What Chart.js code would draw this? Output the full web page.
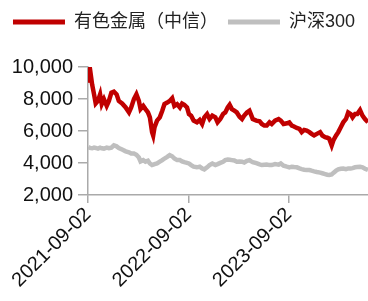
<!DOCTYPE html>
<html>
<head>
<meta charset="utf-8">
<script src="https://cdn.jsdelivr.net/npm/chart.js@4/dist/chart.umd.min.js"></script>
<style>
  html, body { margin: 0; padding: 0; background: #fff; overflow: hidden; }
  #chart { display: block; }
</style>
</head>
<body>
<canvas id="chart" width="368" height="301"></canvas>
<script>
var red = 'rgb(192, 0, 0)';
var gray = 'rgb(191, 191, 191)';
var axisGray = 'rgb(170, 170, 170)';

var seriesNames = ['有色金属（中信）', '沪深300'];

// Sample dates.
var dates = [
    '2021-09-03','2021-09-09','2021-09-17','2021-09-24','2021-09-30','2021-10-08','2021-10-16','2021-10-22','2021-10-30','2021-11-09',
    '2021-11-17','2021-11-26','2021-12-05','2021-12-15','2021-12-23','2022-01-04','2022-01-17','2022-01-29','2022-02-06','2022-02-16',
    '2022-02-25','2022-03-06','2022-03-12','2022-03-22','2022-03-30','2022-04-08','2022-04-15','2022-04-23','2022-04-27','2022-05-02',
    '2022-05-11','2022-05-21','2022-05-30','2022-06-07','2022-06-17','2022-06-26','2022-07-05','2022-07-13','2022-07-23','2022-08-02',
    '2022-08-10','2022-08-18','2022-08-28','2022-09-04','2022-09-12','2022-09-21','2022-10-03','2022-10-13','2022-10-22','2022-10-30',
    '2022-11-09','2022-11-18','2022-11-28','2022-12-09','2022-12-17','2022-12-27','2023-01-06','2023-01-14','2023-01-23','2023-01-30',
    '2023-02-07','2023-02-16','2023-02-25','2023-03-07','2023-03-16','2023-03-24','2023-04-03','2023-04-12','2023-04-17','2023-04-24',
    '2023-05-07','2023-05-19','2023-05-27','2023-06-05','2023-06-14','2023-06-24','2023-07-02','2023-07-14','2023-07-27','2023-08-04',
    '2023-08-14','2023-08-26','2023-09-04','2023-09-13','2023-09-21','2023-10-01','2023-10-11','2023-10-19','2023-10-28','2023-11-06',
    '2023-11-16','2023-11-24','2023-12-03','2023-12-13','2023-12-25','2024-01-02','2024-01-12','2024-01-20','2024-01-27','2024-02-05',
    '2024-02-11','2024-02-21','2024-02-29','2024-03-09','2024-03-18','2024-03-28','2024-04-05','2024-04-14','2024-04-21','2024-04-30',
    '2024-05-08','2024-05-18','2024-05-27','2024-06-05','2024-06-16'
];

var nonferrous = [
    9010, 9900, 8910, 8290, 7720, 7880, 8290, 7680, 7990, 7570,
    7880, 8400, 8460, 8290, 7880, 7720, 7470, 7160, 7470, 7990,
    8290, 7880, 7370, 7570, 7370, 7160, 6850, 5930, 5720, 6240,
    6650, 6850, 7270, 7680, 7780, 7880, 8050, 7570, 7680, 7470,
    7720, 7640, 7470, 7060, 6960, 6650, 6540, 6690, 6440, 6850,
    7060, 6750, 6960, 6850, 6540, 6750, 7060, 7160, 7470, 7640,
    7370, 7270, 7160, 6890, 6750, 6960, 7160, 7270, 7060, 6750,
    6650, 6610, 6440, 6340, 6340, 6540, 6440, 6650, 6750, 6650,
    6440, 6480, 6540, 6340, 6280, 6190, 6130, 5930, 6070, 6030,
    5930, 5820, 5720, 5820, 5930, 5720, 5620, 5580, 5520, 5100,
    5410, 5720, 5930, 6240, 6540, 6750, 7160, 7060, 6850, 7060,
    7060, 7310, 6960, 6750, 6540
];

var csi300 = [
    5000, 4940, 4920, 4960, 4940, 4900, 4960, 4920, 4900, 4960,
    4920, 4960, 5100, 5040, 4940, 4840, 4730, 4670, 4590, 4590,
    4510, 4340, 4100, 4180, 4080, 4140, 3970, 3870, 3890, 3930,
    3970, 4080, 4180, 4280, 4380, 4490, 4420, 4280, 4180, 4180,
    4100, 4050, 4010, 3970, 3870, 3770, 3730, 3770, 3660, 3600,
    3730, 3870, 3970, 3870, 3930, 4010, 4080, 4180, 4220, 4200,
    4180, 4160, 4080, 4100, 4080, 4030, 4140, 4180, 4120, 4050,
    3990, 3910, 3870, 3890, 3910, 3870, 3870, 3930, 3890, 3970,
    3830, 3770, 3730, 3770, 3750, 3730, 3660, 3620, 3580, 3560,
    3560, 3520, 3480, 3440, 3400, 3360, 3310, 3270, 3250, 3290,
    3380, 3520, 3600, 3640, 3660, 3620, 3660, 3660, 3680, 3730,
    3750, 3770, 3730, 3640, 3560
];

var tickDates = ['2021-09-02', '2022-09-02', '2023-09-02'];
var yTicks = [2000, 4000, 6000, 8000, 10000];

////////////////////////////////////////////////////////////////////////////////
// Dates -> day number since the first tick, for a linear x axis.

function dayNum(s) {
    var p = s.split('-');
    var base = Date.UTC(2021, 8, 2);
    return Math.round((Date.UTC(+p[0], +p[1] - 1, +p[2]) - base) / 86400000);
}

var xs = dates.map(dayNum);
var tickDays = tickDates.map(dayNum);

function points(values) {
    return values.map(function (v, i) { return { x: xs[i], y: v }; });
}

// Push the plot down below the legend.
var legendGap = {
    id: 'legendGap',
    beforeInit: function (chart) {
        var fit = chart.legend.fit;
        chart.legend.fit = function () {
            fit.bind(chart.legend)();
            this.height += 26;
        };
    }
};

var ctx = document.getElementById('chart').getContext('2d');
var myChart = new Chart(ctx, {
    type: 'line',
    plugins: [legendGap],
    data: {
        datasets: [{
            label: seriesNames[0],
            data: points(nonferrous),
            borderColor: red,
            backgroundColor: red,
            borderWidth: 4.5,
            pointRadius: 0,
            tension: 0
        },
        {
            label: seriesNames[1],
            data: points(csi300),
            borderColor: gray,
            backgroundColor: gray,
            borderWidth: 4.5,
            pointRadius: 0,
            tension: 0
        }]
    },
    options: {
        responsive: false,
        animation: false,
        layout: {
            padding: { left: 0, right: 0, top: 3, bottom: 0 }
        },
        plugins: {
            tooltip: { enabled: false },
            legend: {
                position: 'top',
                labels: {
                    boxWidth: 52,
                    boxHeight: 5,
                    padding: 10,
                    color: '#222',
                    font: { family: '"Liberation Sans", "Noto Sans CJK SC", sans-serif', size: 18 },
                    // Flat line swatches, no outline.
                    generateLabels: function (chart) {
                        var items = Chart.defaults.plugins.legend.labels.generateLabels(chart);
                        items.forEach(function (it) { it.lineWidth = 0; });
                        return items;
                    }
                }
            }
        },
        scales: {
            x: {
                type: 'linear',
                min: 0,
                max: xs[xs.length - 1],
                afterBuildTicks: function (scale) {
                    scale.ticks = tickDays.map(function (d) { return { value: d }; });
                },
                afterFit: function (scale) {
                    scale.height = 106;
                },
                grid: {
                    drawOnChartArea: false,
                    drawTicks: true,
                    tickLength: 8,
                    color: axisGray,
                    lineWidth: 1.5
                },
                border: { color: axisGray, width: 1.5 },
                ticks: {
                    autoSkip: false,
                    maxRotation: 45,
                    minRotation: 45,
                    padding: 0,
                    color: '#111',
                    font: { family: '"Liberation Sans", sans-serif', size: 20 },
                    callback: function (value) {
                        var i = tickDays.indexOf(value);
                        return i >= 0 ? tickDates[i] : '';
                    }
                }
            },
            y: {
                min: yTicks[0],
                max: yTicks[yTicks.length - 1],
                afterBuildTicks: function (scale) {
                    scale.ticks = yTicks.map(function (v) { return { value: v }; });
                },
                afterFit: function (scale) {
                    scale.width = 88;
                },
                grid: {
                    drawOnChartArea: false,
                    drawTicks: true,
                    tickLength: 10,
                    color: axisGray,
                    lineWidth: 1.5
                },
                border: { color: axisGray, width: 1.5 },
                ticks: {
                    autoSkip: false,
                    padding: 5,
                    color: '#111',
                    font: { family: '"Liberation Sans", sans-serif', size: 20 },
                    callback: function (value) {
                        return value.toLocaleString('en-US');
                    }
                }
            }
        }
    }
});
</script>
</body>
</html>
